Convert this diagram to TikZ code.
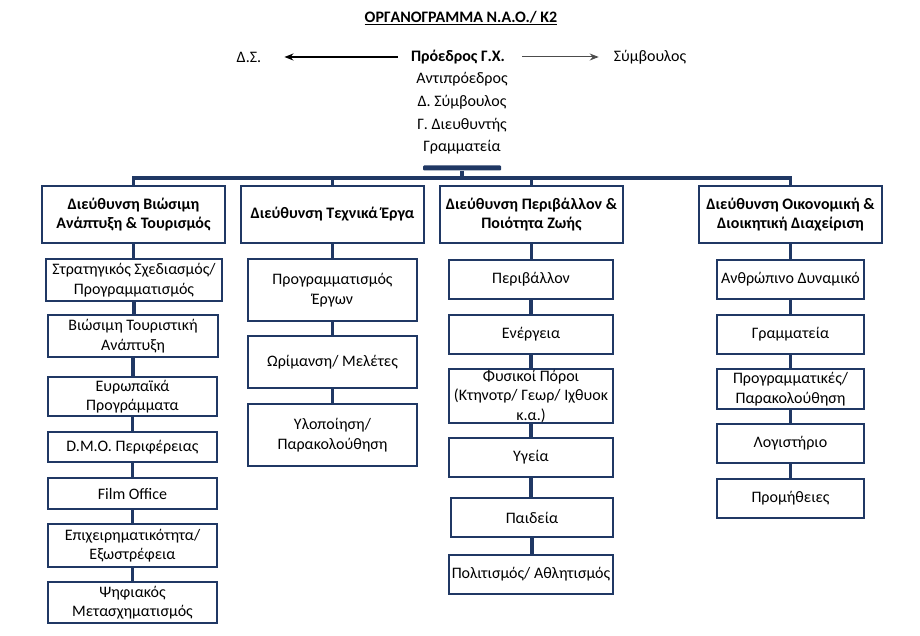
\documentclass[tikz,border=0pt]{standalone}
\usepackage{fontspec}
\setmainfont{Carlito}
\usetikzlibrary{arrows.meta}
\definecolor{navy}{RGB}{32,56,100}
\tikzset{
  txt/.style={font=\fontsize{16}{19.5}\selectfont, inner sep=0pt, align=center},
  hbox/.style={draw=navy, line width=2.8pt, inner sep=0pt, align=center,
    font=\bfseries\fontsize{16}{19.5}\selectfont, fill=white},
  cbox/.style={draw=navy, line width=2.8pt, inner sep=0pt, align=center,
    font=\fontsize{16}{19.5}\selectfont, fill=white},
  conn/.style={color=navy, line width=3.2pt},
  arr/.style={-{Stealth[length=9pt,width=7pt]}, line width=1.3pt},
}
\newcommand{\bx}[7]{% style, name, x1,y1,x2,y2, text
  \node[#1, minimum width={#5-#3}, minimum height={#6-#4}] (#2) at ({(#3+#5)/2},{(#4+#6)/2}) {#7};}
\begin{document}
\begin{tikzpicture}[x=1pt,y=-1pt]
\useasboundingbox (0,0) rectangle (920,636);
% title
\node[txt, font=\bfseries\fontsize{16}{19.5}\selectfont] (title) at (461,18) {\underline{ΟΡΓΑΝΟΓΡΑΜΜΑ Ν.Α.Ο./ Κ2}};
% top
\node[txt, font=\bfseries\fontsize{16}{19.5}\selectfont] (prez) at (458,57) {Πρόεδρος Γ.Χ.};
\node[txt] (ds) at (249,57) {Δ.Σ.};
\node[txt] (symb) at (650,57) {Σύμβουλος};
\draw[arr, shorten <=13pt, shorten >=23pt] (prez) -- (ds);
\draw[arr, line width=1pt, draw=black!70, shorten <=17pt, shorten >=15pt] (prez) -- (symb);
\node[txt] (anti) at (462,79) {Αντιπρόεδρος};
\node[txt] (dsym) at (462,102) {Δ. Σύμβουλος};
\node[txt] (gdir) at (462,125) {Γ. Διευθυντής};
\node[txt] (gram) at (462,147) {Γραμματεία};
% bar
\node[fill=navy, inner sep=0pt, minimum width=78pt, minimum height=5pt, rounded corners=1pt] (bar) at (462,168) {};
\coordinate (hub) at (462,178);
% headers
\bx{hbox}{h1}{42}{186}{225}{243}{Διεύθυνση Βιώσιμη\\Ανάπτυξη \& Τουρισμός}
\bx{hbox}{h2}{241}{186}{424}{243}{Διεύθυνση Τεχνικά Έργα}
\bx{hbox}{h3}{440}{186}{623}{243}{Διεύθυνση Περιβάλλον \&\\Ποιότητα Ζωής}
\bx{hbox}{h4}{699}{186}{882}{243}{Διεύθυνση Οικονομική \&\\Διοικητική Διαχείριση}
% connectors of the top tree
\draw[conn] (bar.south) -- (hub);
\draw[conn] (h1.north) |- (hub) -| (h4.north);
\draw[conn] (h2.north) -- (h2.north |- hub);
\draw[conn] (h3.north) -- (h3.north |- hub);
% column 1
\bx{cbox}{a1}{46}{259}{222}{301}{Στρατηγικός Σχεδιασμός/\\Προγραμματισμός}
\bx{cbox}{a2}{48}{315}{218}{357}{Βιώσιμη Τουριστική\\Ανάπτυξη}
\bx{cbox}{a3}{48}{377}{217}{416}{Ευρωπαϊκά\\Προγράμματα}
\bx{cbox}{a4}{48}{432}{217}{462}{D.M.O. Περιφέρειας}
\bx{cbox}{a5}{48}{478}{217}{509}{Film Office}
\bx{cbox}{a6}{48}{524}{217}{567}{Επιχειρηματικότητα/\\Εξωστρέφεια}
\bx{cbox}{a7}{48}{582}{217}{623}{Ψηφιακός\\Μετασχηματισμός}
% column 2
\bx{cbox}{b1}{248}{259}{417}{321}{Προγραμματισμός\\Έργων}
\bx{cbox}{b2}{248}{336}{417}{388}{Ωρίμανση/ Μελέτες}
\bx{cbox}{b3}{248}{404}{417}{466}{Υλοποίηση/\\Παρακολούθηση}
% column 3
\bx{cbox}{c1}{449}{260}{613}{299}{Περιβάλλον}
\bx{cbox}{c2}{449}{315}{613}{354}{Ενέργεια}
\bx{cbox}{c3}{449}{369}{613}{423}{Φυσικοί Πόροι\\(Κτηνοτρ/ Γεωρ/ Ιχθυοκ\\κ.α.)}
\bx{cbox}{c4}{449}{438}{613}{477}{Υγεία}
\bx{cbox}{c5}{451}{498}{613}{537}{Παιδεία}
\bx{cbox}{c6}{449}{555}{613}{594}{Πολιτισμός/ Αθλητισμός}
% column 4
\bx{cbox}{d1}{717}{260}{864}{299}{Ανθρώπινο Δυναμικό}
\bx{cbox}{d2}{717}{315}{864}{354}{Γραμματεία}
\bx{cbox}{d3}{717}{369}{864}{409}{Προγραμματικές/\\Παρακολούθηση}
\bx{cbox}{d4}{717}{424}{864}{463}{Λογιστήριο}
\bx{cbox}{d5}{717}{479}{864}{518}{Προμήθειες}
% column connectors
\draw[conn] (h1.south) -- (h1.south |- a1.north);
\draw[conn] (a1.south) -- (a1.south |- a2.north);
\draw[conn] (a2.south) -- (a2.south |- a3.north);
\draw[conn] (a3.south) -- (a3.south |- a4.north);
\draw[conn] (a4.south) -- (a4.south |- a5.north);
\draw[conn] (a5.south) -- (a5.south |- a6.north);
\draw[conn] (a6.south) -- (a6.south |- a7.north);
\draw[conn] (h2.south) -- (h2.south |- b1.north);
\draw[conn] (b1.south) -- (b1.south |- b2.north);
\draw[conn] (b2.south) -- (b2.south |- b3.north);
\draw[conn] (h3.south) -- (h3.south |- c1.north);
\draw[conn] (c1.south) -- (c1.south |- c2.north);
\draw[conn] (c2.south) -- (c2.south |- c3.north);
\draw[conn] (c3.south) -- (c3.south |- c4.north);
\draw[conn] (c4.south) -- (c4.south |- c5.north);
\draw[conn] (c5.south) -- (c5.south |- c6.north);
\draw[conn] (h4.south) -- (h4.south |- d1.north);
\draw[conn] (d1.south) -- (d1.south |- d2.north);
\draw[conn] (d2.south) -- (d2.south |- d3.north);
\draw[conn] (d3.south) -- (d3.south |- d4.north);
\draw[conn] (d4.south) -- (d4.south |- d5.north);
\end{tikzpicture}
\end{document}
